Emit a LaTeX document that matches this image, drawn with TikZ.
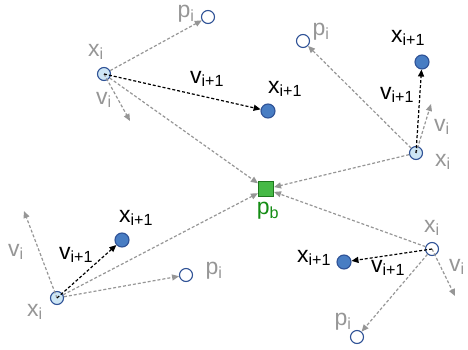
\documentclass[tikz,border=0pt]{standalone}
\usepackage{fontspec}
\setmainfont{Liberation Sans}
\usetikzlibrary{arrows.meta}

\definecolor{ringblue}{RGB}{47,82,150}
\definecolor{fillblue}{RGB}{72,125,195}
\definecolor{paleblue}{RGB}{205,230,245}
\definecolor{boxgreen}{RGB}{70,185,70}
\definecolor{edgegreen}{RGB}{30,120,30}
\definecolor{labgreen}{RGB}{20,140,20}
\definecolor{labgray}{RGB}{150,150,150}

\newcommand{\sub}[2]{#1\textsubscript{#2}}

\begin{document}
\begin{tikzpicture}[
        x=1pt, y=-1pt,
        every node/.style={font=\fontsize{23}{25}\selectfont},
        current/.style={circle, draw=ringblue, line width=1.1pt, fill=paleblue, minimum size=13pt, inner sep=0pt},
        hollow/.style={circle, draw=ringblue, line width=1.1pt, fill=white, minimum size=13pt, inner sep=0pt},
        next/.style={circle, draw=ringblue, line width=1.1pt, fill=fillblue, minimum size=14pt, inner sep=0pt},
        best/.style={rectangle, draw=edgegreen, line width=1.1pt, fill=boxgreen, minimum size=15pt, inner sep=0pt},
        greylab/.style={text=labgray, inner sep=0pt},
        blacklab/.style={text=black, inner sep=0pt},
        oldarrow/.style={-{Triangle[length=7pt, width=6pt]}, labgray, line width=1.2pt, dash pattern=on 3pt off 2pt},
        newarrow/.style={-{Triangle[length=7pt, width=6pt]}, black, line width=1.2pt, dash pattern=on 3pt off 2pt}
    ]
    \useasboundingbox (0,0) rectangle (468,350);

    % Global best
    \node[best] (pb) at (266,189) {};
    \node[text=labgreen, inner sep=0pt] (pblab) at (268,211) {\sub{p}{b}};

    % Particle 1 (top left)
    \node[current] (x1) at (104,74) {};
    \node[hollow] (p1) at (208,17) {};
    \node[next] (n1) at (268,111) {};
    \coordinate (v1) at (130,121);
    \node[greylab] at (96,52) {\sub{x}{i}};
    \node[greylab] at (186,14) {\sub{p}{i}};
    \node[greylab] at (104,100) {\sub{v}{i}};
    \node[blacklab] at (207,79) {\sub{v}{i+1}};
    \node[blacklab] at (285,89) {\sub{x}{i+1}};

    % Particle 2 (top right)
    \node[current] (x2) at (416,153) {};
    \node[hollow] (p2) at (303,41) {};
    \node[next] (n2) at (422,62) {};
    \coordinate (v2) at (431,104);
    \node[greylab] at (443,162) {\sub{x}{i}};
    \node[greylab] at (321,32) {\sub{p}{i}};
    \node[greylab] at (442,127) {\sub{v}{i}};
    \node[blacklab] at (397,95) {\sub{v}{i+1}};
    \node[blacklab] at (408,38) {\sub{x}{i+1}};

    % Particle 3 (bottom left)
    \node[current] (x3) at (57,298) {};
    \node[hollow] (p3) at (186,275) {};
    \node[next] (n3) at (122,240) {};
    \coordinate (v3) at (24,211);
    \node[greylab] at (35,312) {\sub{x}{i}};
    \node[greylab] at (214,271) {\sub{p}{i}};
    \node[greylab] at (16,252) {\sub{v}{i}};
    \node[blacklab] at (76,255) {\sub{v}{i+1}};
    \node[blacklab] at (136,218) {\sub{x}{i+1}};

    % Particle 4 (bottom right)
    \node[hollow] (x4) at (432,249) {};
    \node[hollow] (p4) at (357,337) {};
    \node[next] (n4) at (344,262) {};
    \coordinate (v4) at (455,296);
    \node[greylab] at (432,228) {\sub{x}{i}};
    \node[greylab] at (343,322) {\sub{p}{i}};
    \node[greylab] at (457,267) {\sub{v}{i}};
    \node[blacklab] at (388,268) {\sub{v}{i+1}};
    \node[blacklab] at (314,258) {\sub{x}{i+1}};

    % Arrows
    \foreach \k in {1,2,3,4} {
        \draw[oldarrow] (x\k) -- (p\k);
        \draw[oldarrow] (x\k.center) -- (v\k);
        \draw[oldarrow] (x\k) -- (pb);
        \draw[newarrow] (x\k.center) -- (n\k);
    }

\end{tikzpicture}
\end{document}
